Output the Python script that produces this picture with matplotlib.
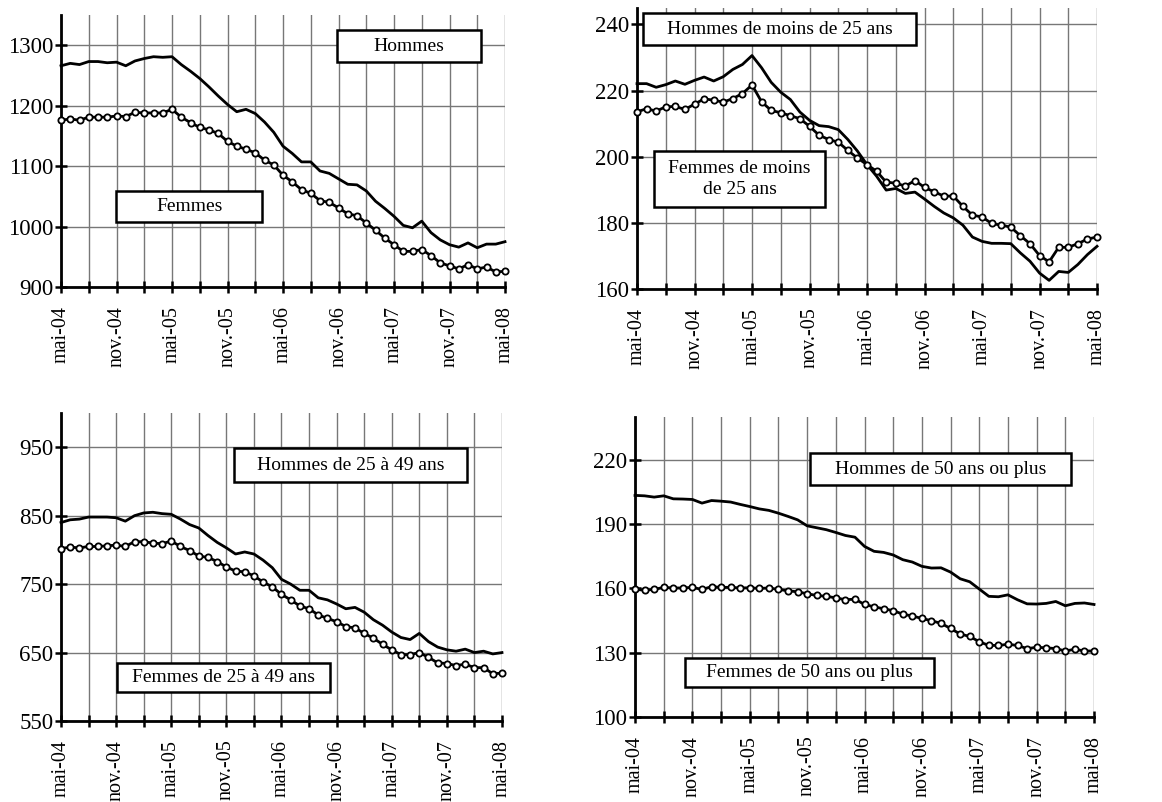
import matplotlib
matplotlib.use('Agg')
import matplotlib.pyplot as plt
from matplotlib.patches import Rectangle
import numpy as np

plt.rcParams['font.family'] = ['Liberation Serif', 'DejaVu Serif']

# mois de mai-04 a mai-08 (49 points)
mois = np.arange(49)
tick_labels = ['mai-04', 'nov.-04', 'mai-05', 'nov.-05', 'mai-06',
               'nov.-06', 'mai-07', 'nov.-07', 'mai-08']

hommes = [1266, 1270, 1268, 1273, 1273, 1271, 1272, 1266, 1274, 1278, 1281, 1280, 1281,
          1268, 1257, 1245, 1231, 1216, 1202, 1190, 1194, 1187, 1173, 1156, 1133, 1121,
          1107, 1107, 1092, 1088, 1079, 1070, 1069, 1059, 1042, 1030, 1017, 1002, 998,
          1009, 990, 978, 970, 966, 973, 965, 971, 971, 975]
femmes = [1176, 1178, 1176, 1181, 1181, 1181, 1183, 1182, 1189, 1188, 1188, 1188, 1194,
          1181, 1172, 1164, 1160, 1154, 1141, 1133, 1128, 1122, 1110, 1102, 1085, 1074,
          1061, 1055, 1043, 1040, 1031, 1021, 1018, 1006, 994, 981, 970, 959, 959,
          962, 952, 940, 935, 930, 937, 930, 933, 925, 926]

hommes_25 = [222.1, 222.1, 221.0, 221.8, 222.9, 221.9, 223.1, 224.1, 222.9, 224.2, 226.4,
             227.9, 230.6, 226.9, 222.5, 219.5, 217.3, 213.5, 211.0, 209.4, 209.1, 208.2,
             205.2, 201.7, 197.6, 194.1, 189.9, 190.4, 188.9, 189.3, 187.2, 185.0, 183.0,
             181.5, 179.3, 175.7, 174.4, 173.8, 173.8, 173.7, 170.9, 168.4, 164.8, 162.6,
             165.3, 165.0, 167.4, 170.4, 172.9]
femmes_25 = [213.6, 214.5, 213.8, 215.1, 215.2, 214.3, 215.9, 217.5, 217.1, 216.5, 217.6,
             219.1, 221.7, 216.6, 214.0, 213.3, 212.4, 211.5, 209.2, 206.5, 205.2, 204.4,
             201.9, 199.6, 197.6, 195.6, 192.3, 192.0, 191.1, 192.8, 190.7, 189.4, 188.1,
             188.1, 185.0, 182.3, 181.8, 179.8, 179.3, 178.7, 176.1, 173.7, 170.1, 168.2,
             172.6, 172.6, 173.7, 175.1, 175.7]

hommes_2549 = [840, 844, 845, 848, 848, 848, 847, 842, 850, 854, 855, 853, 852,
               845, 837, 832, 821, 811, 803, 794, 797, 794, 785, 774, 757, 750,
               741, 741, 730, 727, 721, 714, 716, 709, 698, 690, 680, 672, 669,
               678, 666, 658, 654, 652, 655, 650, 652, 648, 650]
femmes_2549 = [802, 804, 803, 805, 805, 806, 807, 805, 812, 812, 810, 809, 813,
               805, 799, 791, 789, 783, 775, 769, 768, 762, 753, 746, 735, 727,
               718, 714, 705, 700, 695, 688, 686, 678, 671, 662, 654, 647, 647,
               650, 643, 635, 634, 631, 633, 628, 628, 619, 620]

hommes_50 = [203.4, 203.2, 202.6, 203.2, 201.8, 201.7, 201.5, 199.8, 201.0, 200.7, 200.3,
             199.2, 198.2, 197.1, 196.4, 195.1, 193.6, 192.0, 189.2, 188.3, 187.4, 186.1,
             184.7, 183.9, 179.6, 177.3, 176.8, 175.6, 173.4, 172.3, 170.3, 169.5, 169.6,
             167.6, 164.5, 163.1, 159.7, 156.3, 156.1, 157.0, 154.7, 152.8, 152.7, 153.0,
             153.9, 151.9, 153.0, 153.2, 152.5]
femmes_50 = [159.5, 159.2, 159.5, 160.5, 160.2, 160.2, 160.5, 159.5, 160.8, 160.5, 160.5,
             160.2, 160.3, 160.0, 160.2, 159.5, 158.9, 158.4, 157.5, 156.7, 156.3, 155.6,
             154.7, 155.0, 152.5, 151.4, 150.5, 149.6, 148.0, 147.1, 146.0, 144.9, 143.7,
             141.3, 138.7, 137.6, 135.1, 133.4, 133.4, 133.9, 133.4, 131.9, 132.5, 132.3,
             131.9, 130.8, 131.6, 130.8, 130.8]

panels = [
    dict(h=hommes, f=femmes, ylim=(900, 1350), yticks=range(900, 1301, 100),
         lab_h='Hommes', lab_f='Femmes',
         rect=[0.0525, 0.6421, 0.3821, 0.3392],
         box_h=(0.622, 0.827, 0.946, 0.945), box_f=(0.124, 0.239, 0.453, 0.353)),
    dict(h=hommes_25, f=femmes_25, ylim=(160, 245), yticks=range(160, 241, 20),
         lab_h='Hommes de moins de 25 ans', lab_f='Femmes de moins\nde 25 ans',
         rect=[0.5482, 0.6397, 0.3959, 0.3504],
         box_h=(0.013, 0.868, 0.607, 0.982), box_f=(0.037, 0.292, 0.409, 0.491)),
    dict(h=hommes_2549, f=femmes_2549, ylim=(550, 1000), yticks=range(550, 951, 100),
         lab_h='Hommes de 25 à 49 ans', lab_f='Femmes de 25 à 49 ans',
         rect=[0.0525, 0.1010, 0.3795, 0.3840],
         box_h=(0.392, 0.776, 0.921, 0.886), box_f=(0.127, 0.094, 0.610, 0.188)),
    dict(h=hommes_50, f=femmes_50, ylim=(100, 240), yticks=range(100, 221, 30),
         lab_h='Hommes de 50 ans ou plus', lab_f='Femmes de 50 ans ou plus',
         rect=[0.5465, 0.1060, 0.3950, 0.3741],
         box_h=(0.381, 0.773, 0.950, 0.880), box_f=(0.109, 0.100, 0.651, 0.197)),
]

fig = plt.figure(figsize=(11.62, 8.02), dpi=100)

def label_box(ax, box, text):
    x0, y0, x1, y1 = box
    ax.add_patch(Rectangle((x0, y0), x1 - x0, y1 - y0, transform=ax.transAxes,
                           facecolor='white', edgecolor='black', lw=1.8, zorder=5,
                           clip_on=False))
    ax.text((x0 + x1) / 2, (y0 + y1) / 2, text, transform=ax.transAxes,
            ha='center', va='center', fontsize=14, zorder=6, linespacing=1.3)

for p in panels:
    ax = fig.add_axes(p['rect'])
    ax.plot(mois, p['h'], color='black', lw=2, clip_on=False, zorder=3)
    ax.plot(mois, p['f'], color='black', lw=2, marker='o', ms=4.5, mfc='white',
            mec='black', mew=1.3, clip_on=False, zorder=3)
    ax.set_xlim(0, 48)
    ax.set_ylim(*p['ylim'])
    ax.set_yticks(list(p['yticks']))
    ax.set_xticks(range(0, 49, 3))
    ax.set_xticklabels([tick_labels[i // 2] if i % 2 == 0 else '' for i in range(17)],
                       rotation=90, fontsize=14.5)
    ax.tick_params(axis='y', labelsize=16.5, direction='inout', length=9, width=1.8, pad=1)
    ax.tick_params(axis='x', direction='inout', length=9, width=1.8, pad=9)
    ax.grid(True, color='#777777', lw=1)
    ax.set_axisbelow(True)
    for s in ['top', 'right']:
        ax.spines[s].set_visible(False)
    for s in ['left', 'bottom']:
        ax.spines[s].set_linewidth(2)
    label_box(ax, p['box_h'], p['lab_h'])
    label_box(ax, p['box_f'], p['lab_f'])

fig.savefig('out.png', dpi=100)
